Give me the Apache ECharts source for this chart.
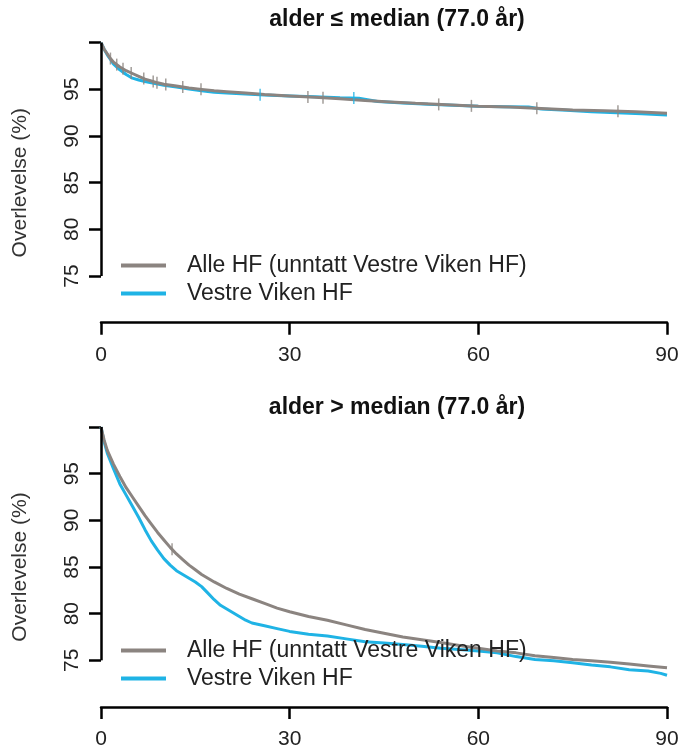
<!DOCTYPE html>
<html><head><meta charset="utf-8">
<script src="https://cdn.jsdelivr.net/npm/echarts@6/dist/echarts.min.js"></script>
<style>html,body{margin:0;padding:0;background:#fff}#c{width:683px;height:754px}</style>
</head><body><div id="c"></div>
<script>
// ---- data ----
const seriesNames = ['Alle HF (unntatt Vestre Viken HF)', 'Vestre Viken HF'];
const panelTitles = ['alder \u2264 median (77.0 år)', 'alder > median (77.0 år)'];
const yAxisTitle = 'Overlevelse (%)';
const xTicks = [0, 30, 60, 90];
const yTicks = [75, 80, 85, 90, 95, 100];
const yTickLabels = [75, 80, 85, 90, 95];

const topAllDays = [0, 0.5, 1, 1.5, 2, 3, 4, 5, 6, 7, 8, 9, 10, 12, 14, 16, 18, 20, 23, 26, 30, 34, 38, 42, 46, 50, 55, 60, 65, 70, 75, 80, 85, 90];
const topAllSurv = [100, 99.3, 98.8, 98.3, 97.9, 97.4, 97.0, 96.7, 96.4, 96.1, 95.9, 95.7, 95.55, 95.35, 95.15, 95.0, 94.85, 94.75, 94.6, 94.45, 94.3, 94.15, 94.0, 93.8, 93.65, 93.5, 93.35, 93.2, 93.1, 92.95, 92.8, 92.7, 92.6, 92.45];
const topVVDays = [0, 0.5, 1, 1.5, 2, 3, 4, 5, 6, 7, 8, 10, 12, 14, 16, 18, 20, 23, 26, 30, 34, 38, 41, 44, 48, 52, 56, 60, 64, 68, 70, 74, 78, 82, 86, 90];
const topVVSurv = [100, 99.3, 98.7, 98.2, 97.7, 97.1, 96.6, 96.2, 96.0, 95.85, 95.7, 95.45, 95.25, 95.05, 94.85, 94.7, 94.6, 94.5, 94.4, 94.3, 94.2, 94.1, 94.05, 93.7, 93.55, 93.4, 93.3, 93.2, 93.15, 93.1, 92.9, 92.75, 92.6, 92.5, 92.4, 92.25];
const topAllCensor = [1.5, 2.5, 3.5, 4.8, 6.8, 8.3, 8.9, 10.3, 13, 15.9, 32.9, 35.3, 53.7, 58.9, 69.3, 82.2];
const topVVCensor = [25.3, 40.2];

const botAllDays = [0, 0.5, 1, 2, 3, 4, 5, 6, 7, 8, 9, 10, 11, 12, 13, 14, 15, 16, 17, 18, 20, 22, 24, 26, 28, 30, 33, 36, 39, 42, 45, 48, 51, 54, 57, 60, 63, 66, 69, 72, 75, 78, 81, 84, 87, 90];
const botAllSurv = [100, 98.6, 97.5, 96.0, 94.7, 93.5, 92.5, 91.5, 90.5, 89.6, 88.7, 87.9, 87.1, 86.4, 85.8, 85.2, 84.7, 84.2, 83.8, 83.4, 82.7, 82.1, 81.6, 81.1, 80.6, 80.2, 79.7, 79.3, 78.8, 78.3, 77.9, 77.5, 77.2, 76.9, 76.6, 76.3, 76.0, 75.8, 75.5, 75.3, 75.1, 74.95, 74.8, 74.6, 74.4, 74.2];
const botVVDays = [0, 0.5, 1, 2, 3, 4, 5, 6, 7, 8, 9, 10, 11, 12, 13, 14, 15, 16, 17, 18, 19, 20, 21, 22, 23, 24, 26, 28, 30, 33, 36, 39, 42, 45, 48, 51, 54, 57, 60, 63, 66, 69, 72, 75, 78, 81, 84, 87, 89, 90];
const botVVSurv = [100, 98.4, 97.2, 95.5, 93.9, 92.7, 91.5, 90.3, 89.0, 87.8, 86.8, 85.9, 85.2, 84.6, 84.2, 83.8, 83.4, 82.9, 82.2, 81.5, 80.9, 80.5, 80.1, 79.7, 79.3, 79.0, 78.7, 78.4, 78.1, 77.8, 77.6, 77.3, 77.0, 76.85, 76.7, 76.5, 76.3, 76.15, 76.0, 75.8, 75.4, 75.1, 74.95, 74.75, 74.5, 74.3, 74.0, 73.85, 73.6, 73.4];
const botAllCensor = [11.3];
const botVVCensor = [];

// ---- helpers ----
const GRAY = '#8B8480', BLUE = '#1FB3E5';
const zip = (a, b) => a.map((d, i) => [d, b[i]]);
function valAt(days, surv, t) {
  for (let i = 1; i < days.length; i++) {
    if (days[i] >= t) { const f = (t - days[i - 1]) / (days[i] - days[i - 1]); return surv[i - 1] + f * (surv[i] - surv[i - 1]); }
  }
  return surv[surv.length - 1];
}
const censorData = (days, surv, c) => c.map(t => [t, valAt(days, surv, t)]);

const FONT = 'Liberation Sans, Arial, Helvetica, sans-serif';
const grids = [{left: 101, right: 16, top: 42.7, height: 280}, {left: 101, right: 16, top: 427, height: 280}];
const titleTops = [8, 396];
const legendTops = [254, 639];

const panels = [
  {all: [topAllDays, topAllSurv, topAllCensor], vv: [topVVDays, topVVSurv, topVVCensor]},
  {all: [botAllDays, botAllSurv, botAllCensor], vv: [botVVDays, botVVSurv, botVVCensor]}
];

const xAxes = [], yAxes = [], series = [], titles = [], legends = [];
panels.forEach((p, k) => {
  xAxes.push({
    type: 'value', gridIndex: k, min: 0, max: 90, interval: 30,
    axisLine: {show: true, lineStyle: {color: '#000', width: 2.5}},
    axisTick: {show: true, length: 12, lineStyle: {color: '#000', width: 2.5}},
    axisLabel: {fontFamily: FONT, fontSize: 21, color: '#222', margin: 22,
      customValues: xTicks},
    splitLine: {show: false}
  });
  yAxes.push({
    type: 'value', gridIndex: k, min: 70, max: 100,
    name: yAxisTitle, nameLocation: 'middle', nameGap: 70, nameRotate: 90,
    nameTextStyle: {fontFamily: FONT, fontSize: 21, color: '#333'},
    axisLine: {show: false},
    axisTick: {show: true, length: 12, customValues: yTicks, lineStyle: {color: '#000', width: 2.5}},
    axisLabel: {customValues: yTickLabels, rotate: 90, fontFamily: FONT, fontSize: 21, color: '#222', margin: 18},
    splitLine: {show: false}
  });
  titles.push({text: panelTitles[k], left: 397, textAlign: 'center', top: titleTops[k], padding: 0,
    textStyle: {fontFamily: FONT, fontSize: 23, fontWeight: 'bold', color: '#111'}});
  legends.push({orient: 'vertical', left: 121, top: legendTops[k], itemWidth: 45, itemHeight: 22, itemGap: 5,
    padding: 0, data: seriesNames, selectedMode: false, icon: 'path://M0,9L45,9L45,13L0,13Z',
    textStyle: {fontFamily: FONT, fontSize: 23, color: '#222', lineHeight: 22, padding: [0, 0, 0, 16]}});
  series.push({
    name: seriesNames[1], type: 'line', xAxisIndex: k, yAxisIndex: k,
    data: zip(p.vv[0], p.vv[1]), symbol: 'none', color: BLUE, lineStyle: {width: 3, color: BLUE}, z: 2,
    clip: false
  });
  series.push({
    name: seriesNames[0], type: 'line', xAxisIndex: k, yAxisIndex: k,
    data: zip(p.all[0], p.all[1]), symbol: 'none', color: GRAY, lineStyle: {width: 3, color: GRAY}, z: 3,
    clip: false,
    markLine: {silent: true, symbol: 'none', label: {show: false}, animation: false,
      lineStyle: {color: '#000', width: 2.5, type: 'solid'},
      data: [[{coord: [0, 75]}, {coord: [0, 100]}]]}
  });
  series.push({
    type: 'scatter', xAxisIndex: k, yAxisIndex: k, symbol: 'rect', symbolSize: [1.5, 12],
    data: censorData(p.all[0], p.all[1], p.all[2]), itemStyle: {color: GRAY}, z: 4, silent: true
  });
  series.push({
    type: 'scatter', xAxisIndex: k, yAxisIndex: k, symbol: 'rect', symbolSize: [1.5, 12],
    data: censorData(p.vv[0], p.vv[1], p.vv[2]), itemStyle: {color: BLUE}, z: 4, silent: true
  });
});

const chart = echarts.init(document.getElementById('c'), null, {renderer: 'canvas'});
chart.setOption({
  animation: false,
  backgroundColor: '#fff',
  title: titles, legend: legends, grid: grids, xAxis: xAxes, yAxis: yAxes, series: series
});
</script></body></html>
